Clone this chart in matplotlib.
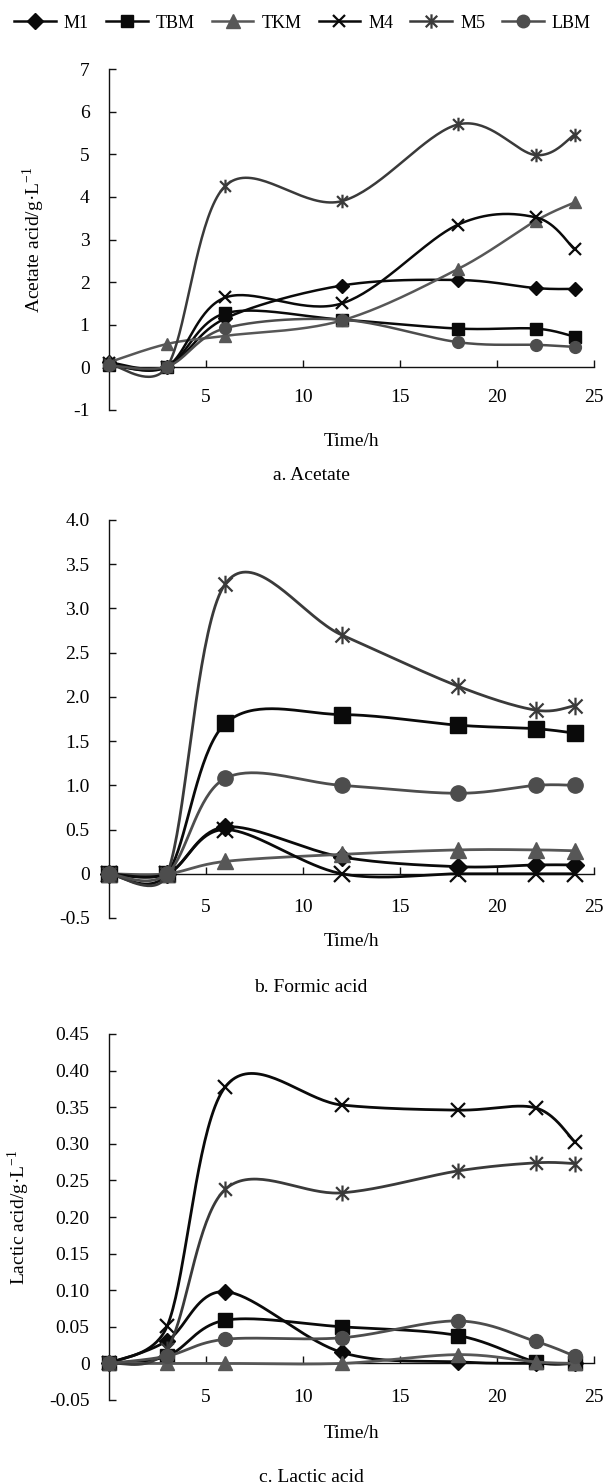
import numpy as np
import matplotlib
matplotlib.use('Agg')
import matplotlib.pyplot as plt
from matplotlib.path import Path
from matplotlib.lines import Line2D
import matplotlib.transforms as mtransforms

plt.rcParams['font.family'] = ['Liberation Serif', 'DejaVu Serif']
plt.rcParams['mathtext.fontset'] = 'custom'
plt.rcParams['mathtext.rm'] = 'Liberation Serif'

# ---------------- data ----------------
time_h = [0, 3, 6, 12, 18, 22, 24]
series_names = ['M1', 'TBM', 'TKM', 'M4', 'M5', 'LBM']

acetate_M1 = [0.12, 0.02, 1.15, 1.92, 2.05, 1.86, 1.84]
acetate_TBM = [0.05, 0.02, 1.27, 1.12, 0.91, 0.91, 0.72]
acetate_TKM = [0.12, 0.55, 0.74, 1.10, 2.31, 3.44, 3.87]
acetate_M4 = [0.10, 0.02, 1.64, 1.50, 3.35, 3.52, 2.77]
acetate_M5 = [0.08, 0.02, 4.26, 3.90, 5.70, 4.98, 5.46]
acetate_LBM = [0.05, 0.02, 0.92, 1.12, 0.59, 0.53, 0.48]

formic_M1 = [0.0, 0.0, 0.53, 0.19, 0.08, 0.10, 0.10]
formic_TBM = [0.0, 0.0, 1.70, 1.80, 1.68, 1.64, 1.59]
formic_TKM = [0.0, 0.0, 0.14, 0.22, 0.27, 0.27, 0.26]
formic_M4 = [0.0, 0.0, 0.50, 0.0, 0.0, 0.0, 0.0]
formic_M5 = [0.0, 0.0, 3.28, 2.70, 2.12, 1.85, 1.90]
formic_LBM = [0.0, 0.0, 1.08, 1.00, 0.91, 1.00, 1.00]

lactic_M1 = [0.0, 0.031, 0.098, 0.015, 0.002, 0.0, 0.0]
lactic_TBM = [0.0, 0.010, 0.059, 0.050, 0.038, 0.002, 0.0]
lactic_TKM = [0.0, 0.0, 0.0, 0.0, 0.012, 0.002, 0.0]
lactic_M4 = [0.0, 0.051, 0.378, 0.353, 0.346, 0.349, 0.303]
lactic_M5 = [0.0, 0.020, 0.238, 0.233, 0.263, 0.274, 0.273]
lactic_LBM = [0.0, 0.010, 0.033, 0.035, 0.058, 0.030, 0.010]

acetate_yticks = [-1, 0, 1, 2, 3, 4, 5, 6, 7]
acetate_yticklabels = ['-1', '0', '1', '2', '3', '4', '5', '6', '7']
formic_yticks = [-0.5, 0, 0.5, 1.0, 1.5, 2.0, 2.5, 3.0, 3.5, 4.0]
formic_yticklabels = ['-0.5', '0', '0.5', '1.0', '1.5', '2.0', '2.5', '3.0', '3.5', '4.0']
lactic_yticks = [-0.05, 0, 0.05, 0.10, 0.15, 0.20, 0.25, 0.30, 0.35, 0.40, 0.45]
lactic_yticklabels = ['-0.05', '0', '0.05', '0.10', '0.15', '0.20', '0.25', '0.30',
                      '0.35', '0.40', '0.45']
xticks = [5, 10, 15, 20, 25]
xticklabels = ['5', '10', '15', '20', '25']

# ---------------- styles ----------------
star_path = Path([(-0.8, -0.8), (0.8, 0.8), (-0.8, 0.8), (0.8, -0.8), (0, -1), (0, 1)],
                 [Path.MOVETO, Path.LINETO, Path.MOVETO, Path.LINETO, Path.MOVETO, Path.LINETO])
styles = {
    'M1': dict(color='#0a0a0a', marker='D', msf=0.85),
    'TBM': dict(color='#0a0a0a', marker='s', msf=1.0),
    'TKM': dict(color='#575757', marker='^', msf=1.05),
    'M4': dict(color='#0a0a0a', marker='x', msf=1.0),
    'M5': dict(color='#3a3a3a', marker=star_path, msf=1.15),
    'LBM': dict(color='#4d4d4d', marker='o', msf=1.0),
}

FS = 14
W, H = 605, 1484
fig = plt.figure(figsize=(W / 100, H / 100), dpi=100)


def fy(px):
    return 1 - px / H


def smooth(x, y, sx, sy, n=40):
    """Excel-like Bezier smoothing in screen space (tension 1/6, capped handles)."""
    P = np.column_stack([np.asarray(x, float) * sx, np.asarray(y, float) * sy])
    m = len(P)
    fwd = np.zeros_like(P)
    bwd = np.zeros_like(P)
    for i in range(m):
        a = P[i - 1] if i > 0 else P[i]
        b = P[i + 1] if i < m - 1 else P[i]
        d = b - a
        nd = np.hypot(*d)
        dh = d / nd if nd > 0 else d
        ln = np.hypot(*(P[i + 1] - P[i])) if i < m - 1 else 0.0
        lp = np.hypot(*(P[i] - P[i - 1])) if i > 0 else 0.0
        fwd[i] = P[i] + dh * min(nd / 6, 0.5 * ln)
        bwd[i] = P[i] - dh * min(nd / 6, 0.5 * lp)
    out = []
    t = np.linspace(0, 1, n)[:, None]
    for i in range(m - 1):
        p1, p2 = P[i], P[i + 1]
        c1, c2 = fwd[i], bwd[i + 1]
        seg = (1 - t) ** 3 * p1 + 3 * (1 - t) ** 2 * t * c1 + 3 * (1 - t) * t ** 2 * c2 + t ** 3 * p2
        out.append(seg if i == 0 else seg[1:])
    c = np.vstack(out)
    return c[:, 0] / sx, c[:, 1] / sy


def panel(rect, data, ylim, yticks, yticklabels, ms, lw, xlab_px, xtick_px, caption_px,
          caption, ylabel=None, ylabel_x=None):
    ax = fig.add_axes(rect)
    ax.set_xlim(0, 25)
    ax.set_ylim(*ylim)
    for s in ['top', 'right']:
        ax.spines[s].set_visible(False)
    ax.spines['bottom'].set_position(('data', 0))
    for s in ['left', 'bottom']:
        ax.spines[s].set_linewidth(1.0)
        ax.spines[s].set_color('#111111')
    ax.set_xticks(xticks)
    ax.set_xticklabels([])
    ax.set_yticks(yticks)
    ax.set_yticklabels(yticklabels)
    ax.tick_params(direction='in', length=5, width=1.0, color='#111111', labelsize=FS, pad=14)
    ax.tick_params(axis='x', labelbottom=False)
    bbox = ax.get_window_extent()
    sx = bbox.width / 25.0
    sy = bbox.height / (ylim[1] - ylim[0])
    for i, name in enumerate(series_names):
        st = styles[name]
        vals = data[i]
        xs, ys = smooth(time_h, vals, sx, sy)
        ax.plot(xs, ys, color=st['color'], lw=lw, zorder=3 + i, clip_on=False,
                solid_capstyle='round')
        mk = st['marker']
        line_marker = mk in ('x',) or isinstance(mk, Path)
        ax.plot(time_h, vals, linestyle='none', marker=mk, ms=ms * st['msf'],
                color=st['color'], mec=st['color'], mfc=st['color'],
                mew=1.6 if line_marker else 1.0, zorder=3 + i, clip_on=False)
    tr = mtransforms.blended_transform_factory(ax.transData, fig.transFigure)
    for xv, lab in zip(xticks, xticklabels):
        ax.text(xv, fy(xtick_px), lab, transform=tr, ha='center', va='center', fontsize=FS)
    fig.text(351 / W, fy(xlab_px), 'Time/h', ha='center', va='center', fontsize=FS)
    fig.text(311 / W, fy(caption_px), caption, ha='center', va='center', fontsize=FS)
    if ylabel:
        ax.set_ylabel(ylabel, fontsize=FS)
        ax.yaxis.set_label_coords(ylabel_x, 0.5)
    return ax


left = 109 / W
width = (594 - 109) / W

ylab_a = r'Acetate acid/g·L$^{\mathregular{-1}}$'
ylab_c = r'Lactic acid/g·L$^{\mathregular{-1}}$'

panel([left, fy(410), width, (410 - 69) / H],
      [acetate_M1, acetate_TBM, acetate_TKM, acetate_M4, acetate_M5, acetate_LBM],
      (-1, 7), acetate_yticks, acetate_yticklabels, 8.5, 1.8,
      442, 398, 475, 'a. Acetate', ylab_a, (47 - 109) / 485)

panel([left, fy(918), width, (918 - 520) / H],
      [formic_M1, formic_TBM, formic_TKM, formic_M4, formic_M5, formic_LBM],
      (-0.5, 4.0), formic_yticks, formic_yticklabels, 11, 2.0,
      942, 907, 987, 'b. Formic acid')

panel([left, fy(1400), width, (1400 - 1034) / H],
      [lactic_M1, lactic_TBM, lactic_TKM, lactic_M4, lactic_M5, lactic_LBM],
      (-0.05, 0.45), lactic_yticks, lactic_yticklabels, 10, 2.0,
      1433, 1397, 1477, 'c. Lactic acid', ylab_c, (32 - 109) / 485)

handles = []
for name in series_names:
    st = styles[name]
    mk = st['marker']
    line_marker = mk in ('x',) or isinstance(mk, Path)
    handles.append(Line2D([], [], color=st['color'], lw=1.8, marker=mk, ms=9 * st['msf'],
                          mfc=st['color'], mec=st['color'], mew=1.6 if line_marker else 1.0))
fig.legend(handles, series_names, loc='center', bbox_to_anchor=(0.5, fy(23)), ncol=6,
           frameon=False, fontsize=13, handlelength=2.3, handletextpad=0.45,
           columnspacing=0.95, borderpad=0, borderaxespad=0)

fig.savefig('out.png', dpi=100)
